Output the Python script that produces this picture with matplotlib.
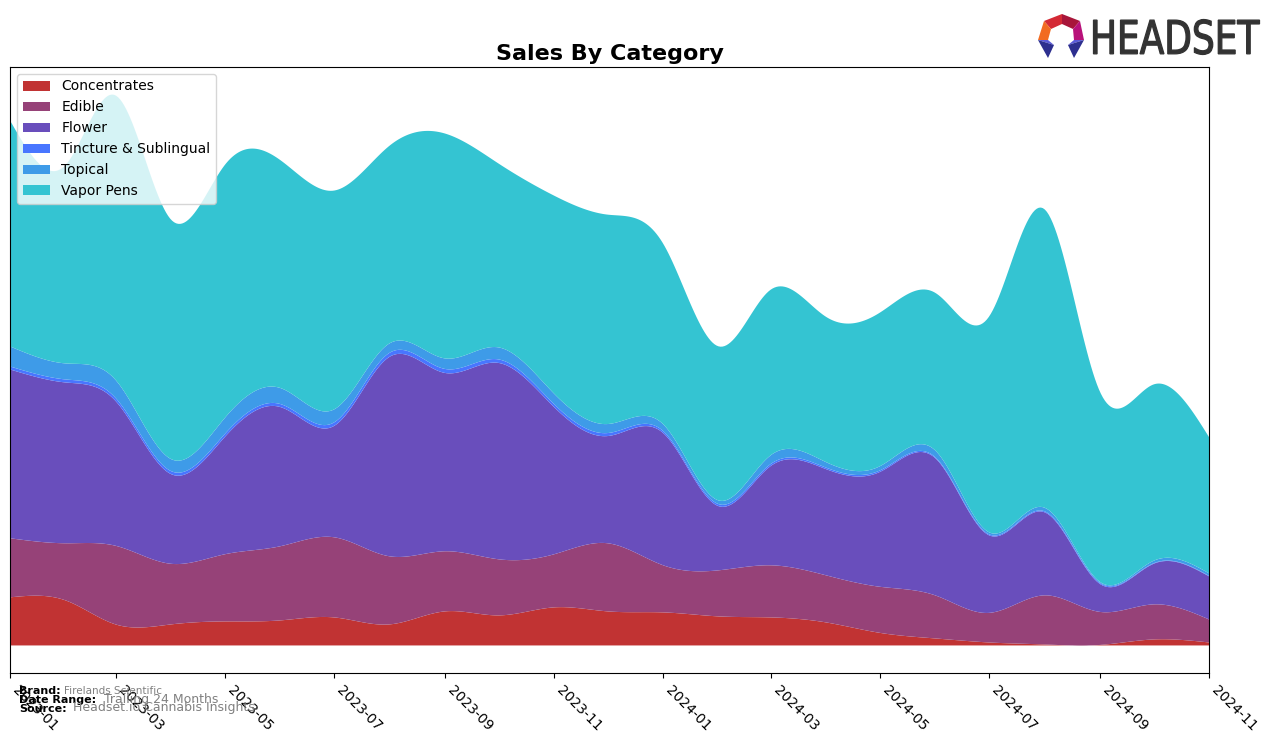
import matplotlib
matplotlib.use("Agg")
import matplotlib.pyplot as plt
import matplotlib.dates as mdates
import numpy as np
import pandas as pd
from matplotlib.patches import Polygon, PathPatch
from matplotlib.textpath import TextPath
from matplotlib.font_manager import FontProperties
from matplotlib.transforms import Affine2D

# monthly sales by category (arbitrary units)
months = pd.date_range("2023-01-01", "2024-11-01", freq="MS")
categories = ["Concentrates", "Edible", "Flower", "Tincture & Sublingual",
              "Topical", "Vapor Pens"]
concentrates = [48, 45, 21, 21, 24, 25, 28, 21, 34, 30, 38, 34,
                33, 29, 28, 23, 12.6, 7, 3, 1, 0.5, 6, 3]
edible = [59, 57, 78.5, 60.5, 67, 74, 80, 68, 60, 56, 53, 68,
          47, 46, 52, 47, 46, 43, 29.5, 49, 33, 35, 23]
flower = [168.5, 160.5, 144.5, 89.5, 117, 139, 111, 199, 178, 196, 147, 107,
          132, 64, 99, 106, 114.5, 137, 77.5, 83, 28, 40.5, 43]
tincture = [3, 3, 3, 3, 3, 3, 3.5, 4, 4, 3.5, 3, 3,
            2, 2, 2, 1.5, 1.5, 1, 1, 1, 1, 0.5, 0.5]
topical = [20, 16, 18, 12, 16, 16, 13, 9.4, 10.5, 12, 10.4, 9,
           6.8, 3.7, 8.7, 5.5, 4.2, 6.7, 2, 3.6, 1, 2.5, 2.5]
vapor_pens = [225.5, 198, 284, 239, 252.5, 227.5, 218.5, 197.3, 224.5,
              183.5, 197.6, 209, 180.2, 153.8, 165.3, 145, 153.3, 157.3,
              215, 297.9, 190, 176, 136]

colors = ["#c13333", "#964278", "#694ebc", "#4876ff", "#3e9be8", "#34c4d2"]


def spline(x, y, xs):
    # natural cubic spline through the monthly points
    x = np.asarray(x, float)
    y = np.asarray(y, float)
    n = len(x)
    h = np.diff(x)
    A = np.zeros((n, n))
    b = np.zeros(n)
    A[0, 0] = A[-1, -1] = 1
    for i in range(1, n - 1):
        A[i, i - 1] = h[i - 1]
        A[i, i] = 2 * (h[i - 1] + h[i])
        A[i, i + 1] = h[i]
        b[i] = 6 * ((y[i + 1] - y[i]) / h[i] - (y[i] - y[i - 1]) / h[i - 1])
    M = np.linalg.solve(A, b)
    idx = np.clip(np.searchsorted(x, xs) - 1, 0, n - 2)
    x0, x1 = x[idx], x[idx + 1]
    hh = x1 - x0
    return (M[idx] * (x1 - xs) ** 3 / (6 * hh)
            + M[idx + 1] * (xs - x0) ** 3 / (6 * hh)
            + (y[idx] / hh - M[idx] * hh / 6) * (x1 - xs)
            + (y[idx + 1] / hh - M[idx + 1] * hh / 6) * (xs - x0))


xn = mdates.date2num(months)
xs = np.linspace(xn[0], xn[-1], 600)
series = [concentrates, edible, flower, tincture, topical, vapor_pens]
smooth = [spline(xn, s, xs) for s in series]

fig = plt.figure(figsize=(12.76, 7.43), dpi=100)
ax = fig.add_axes([10 / 1276, 1 - 673 / 743, 1199 / 1276, 606 / 743])
ax.stackplot(mdates.num2date(xs), *smooth, labels=categories, colors=colors)

mx = np.sum(smooth, axis=0).max()
ax.set_ylim(-0.05 * mx, 1.05 * mx)
ax.set_xlim(months[0], months[-1])
ax.set_yticks([])
ax.xaxis.set_major_locator(mdates.MonthLocator(bymonth=[1, 3, 5, 7, 9, 11]))
ax.xaxis.set_major_formatter(mdates.DateFormatter("%Y-%m"))
plt.setp(ax.get_xticklabels(), rotation=-45, ha="left", fontsize=10)
ax.set_title("Sales By Category", fontsize=16, fontweight="bold", pad=5)
ax.legend(loc="upper left")

# footer
fig.text(19 / 1276, 1 - 691 / 743, "Brand:", fontsize=8, fontweight="bold",
         va="center")
fig.text(64 / 1276, 1 - 691 / 743, "Firelands Scientific", fontsize=7.5,
         color="gray", va="center")
fig.text(19 / 1276, 1 - 700 / 743, "Date Range:", fontsize=8,
         fontweight="bold", va="center")
fig.text(104 / 1276, 1 - 699 / 743, "Trailing 24 Months", fontsize=9,
         color="gray", va="center")
fig.text(19 / 1276, 1 - 709 / 743, "Source:", fontsize=8, fontweight="bold",
         va="center")
fig.text(73 / 1276, 1 - 708 / 743, "Headset.io Cannabis Insights", fontsize=9,
         color="gray", va="center")

# logo, drawn in pixel coordinates
lg = fig.add_axes([0, 0, 1, 1], zorder=5)
lg.set_xlim(0, 1276)
lg.set_ylim(743, 0)
lg.axis("off")
lg.patch.set_alpha(0)
pieces = [
    ([(1062, 14), (1044, 21), (1051, 29), (1062, 24)], "#d42a35"),
    ([(1062, 14), (1080, 21), (1073, 29), (1062, 24)], "#a8163a"),
    ([(1044, 21), (1038, 40), (1048, 40), (1051, 29)], "#f26b21"),
    ([(1080, 21), (1084, 40), (1074, 40), (1073, 29)], "#b8127a"),
    ([(1038, 40), (1048, 40), (1054, 45)], "#5a5ad8"),
    ([(1038, 40), (1054, 45), (1048, 58)], "#2d2f8f"),
    ([(1084, 40), (1074, 40), (1068, 45)], "#5a5ad8"),
    ([(1084, 40), (1068, 45), (1074, 58)], "#2d2f8f"),
]
for pts, c in pieces:
    lg.add_patch(Polygon(pts, closed=True, facecolor=c, edgecolor="none"))

tp = TextPath((0, 0), "HEADSET", size=40,
              prop=FontProperties(family="DejaVu Sans"))
ext = tp.get_extents()
sx = 166 / ext.width
sy = 35 / ext.height
tr = (Affine2D().translate(-ext.x0, -ext.y0).scale(sx, -sy)
      .translate(1093.5, 54.5))
lg.add_patch(PathPatch(tr.transform_path(tp), facecolor="#333333",
                       edgecolor="#333333", linewidth=0.9))

fig.savefig("out.png", dpi=100)
